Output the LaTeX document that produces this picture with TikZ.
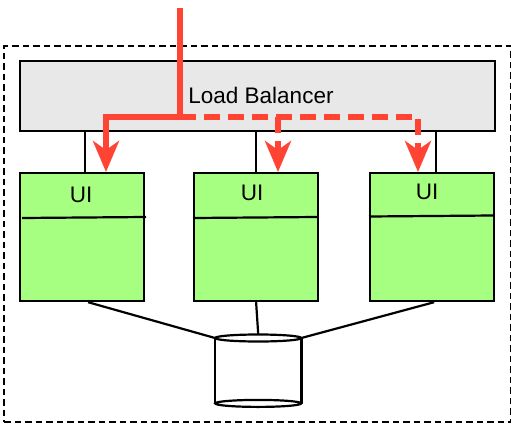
\documentclass[tikz,border=0pt]{standalone}
\usepackage{fontspec}
\setmainfont{Liberation Sans}
\usetikzlibrary{arrows.meta,calc}
\definecolor{lbgray}{HTML}{E8E8E8}
\definecolor{uigreen}{HTML}{A6FF80}
\definecolor{redarrow}{HTML}{FF4433}
\begin{document}
\begin{tikzpicture}[x=1pt,y=-1pt,
  blk/.style={draw=black, line width=2.2pt},
  outerbox/.style={draw=black, line width=2.2pt, dash pattern=on 6.5pt off 4pt, minimum width=507pt, minimum height=376pt, anchor=north west, inner sep=0pt},
  lbbox/.style={blk, fill=lbgray, minimum width=475pt, minimum height=70pt, anchor=north west, inner sep=0pt},
  uibox/.style={blk, fill=uigreen, minimum width=124pt, minimum height=128pt, anchor=north west, inner sep=0pt},
  lbl/.style={font=\fontsize{22.5}{26}\selectfont, inner sep=0pt},
  conn/.style={draw=black, line width=2.2pt},
  redline/.style={draw=redarrow, line width=6pt},
  reddash/.style={redline, dash pattern=on 16pt off 8pt},
  redtip/.style={-{Stealth[length=31pt 0, width=26pt 0, inset=9pt]}}
]
\useasboundingbox (0,0) rectangle (511,423);

\node[outerbox] (sys) at (3,45) {};
\node[lbbox] (lb) at (19,60) {};
\node[lbl] (lbtext) at (261,95) {Load Balancer};

\node[uibox] (ui1) at (19,172) {};
\node[uibox] (ui2) at (193,172) {};
\node[uibox] (ui3) at (369,172) {};

\node[lbl] (t1) at ($(ui1.north)+(-1,23)$) {UI};
\node[lbl] (t2) at ($(ui2.north)+(-4,21)$) {UI};
\node[lbl] (t3) at ($(ui3.north)+(-5,20)$) {UI};

% dividers
\draw[conn] ($(ui1.north west)+(3,46)$) -- ($(ui1.north west)+(127,45)$);
\draw[conn] ($(ui2.north west)+(0,46)$) -- ($(ui2.north west)+(124,45)$);
\draw[conn] ($(ui3.north west)+(0,44.5)$) -- ($(ui3.north west)+(124,43.5)$);

% LB to UI connectors
\draw[conn] ([xshift=3pt]ui1.north |- lb.south) -- ([xshift=3pt]ui1.north);
\draw[conn] (ui2.north |- lb.south) -- (ui2.north);
\draw[conn] ([xshift=4pt]ui3.north |- lb.south) -- ([xshift=4pt]ui3.north);

% database cylinder
\node[minimum width=86pt, minimum height=73pt, anchor=north west, inner sep=0pt] (db) at (215,334) {};
\coordinate (dbl) at ($(db.north west)+(0,4)$);
\coordinate (dbr) at ($(db.north east)+(0,4)$);
\coordinate (dbt) at (db.north);
\draw[conn] (dbl) -- ($(db.south west)+(0,-4)$);
\draw[conn] (dbr) -- ($(db.south east)+(0,-4)$);
\draw[conn, fill=white] ($(db.north)+(0,4)$) ellipse [x radius=43pt, y radius=3.5pt];
\draw[conn] ($(db.south)+(0,-4)$) ellipse [x radius=43pt, y radius=3.5pt];

% UI to DB
\draw[conn] ([xshift=6pt]ui1.south) -- (dbl);
\draw[conn] (ui2.south) -- (dbt);
\draw[conn] ([xshift=2pt]ui3.south) -- (dbr);

% red routing
\coordinate (in) at (180,8);
\coordinate (split) at (in |- 0,117);
\coordinate (c1) at (106,117);
\coordinate (c2) at (278,117);
\coordinate (c3) at (418,117);
\draw[redline, redtip] (in) -- (split) -- (c1) -- (c1 |- ui1.north);
\draw[reddash, redtip] (split) -- (c3) -- (c3 |- ui3.north);
\draw[reddash, redtip] (c2) -- (c2 |- ui2.north);
\end{tikzpicture}
\end{document}
